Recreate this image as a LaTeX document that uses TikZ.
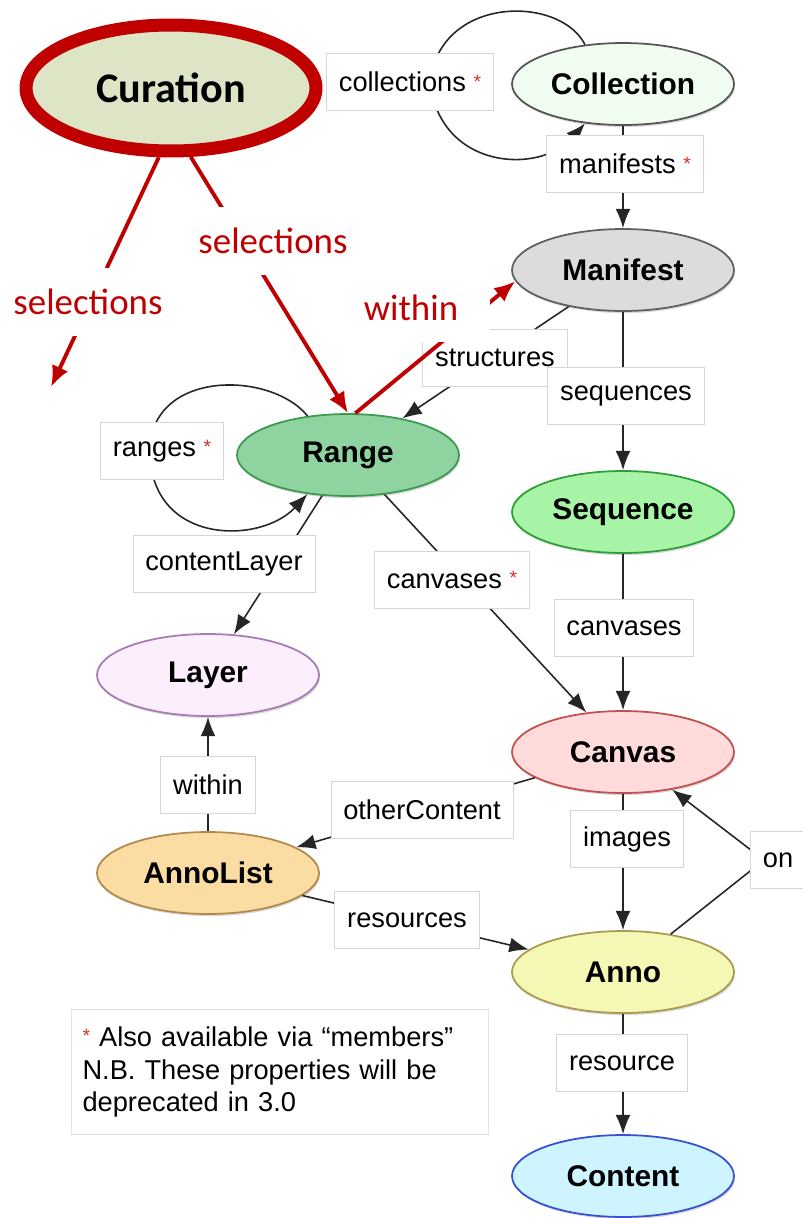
\documentclass[tikz,border=0pt]{standalone}
\usepackage{fontspec}
\setmainfont{Liberation Sans}
\newfontfamily\calibrifont{Carlito}
\usepackage{xcolor}
\usepackage{tikz}
\usetikzlibrary{shapes,positioning,arrows.meta,shadows}

\definecolor{curred}{HTML}{C00000}
\definecolor{curfill}{HTML}{DDE5C6}
\definecolor{colfill}{HTML}{F0FCEF}
\definecolor{colline}{HTML}{555555}
\definecolor{manfill}{HTML}{DCDCDC}
\definecolor{manline}{HTML}{606060}
\definecolor{rngfill}{HTML}{8FD3A0}
\definecolor{rngline}{HTML}{3C9A50}
\definecolor{seqfill}{HTML}{A7F4A7}
\definecolor{seqline}{HTML}{2E9E3A}
\definecolor{layfill}{HTML}{FCEEFC}
\definecolor{layline}{HTML}{A77BB5}
\definecolor{canfill}{HTML}{FFDBDB}
\definecolor{canline}{HTML}{C25050}
\definecolor{anlfill}{HTML}{FBDCA3}
\definecolor{anlline}{HTML}{B38A4D}
\definecolor{anofill}{HTML}{F5F8B4}
\definecolor{anoline}{HTML}{A89A50}
\definecolor{cntfill}{HTML}{CDF4FF}
\definecolor{cntline}{HTML}{3A50D0}
\definecolor{boxgrey}{HTML}{D6D6D6}
\definecolor{starred}{HTML}{D03030}

\newcommand{\rstar}{\raisebox{2pt}{\textcolor{starred}{\fontsize{11}{11}\selectfont *}}}

\begin{document}
\begin{tikzpicture}[x=0.02cm,y=-0.02cm]
      \tikzstyle{enode} = [ellipse, draw, line width=1pt, minimum width=4.44cm, minimum height=1.64cm,
      inner sep=0pt, font=\fontsize{17}{17}\selectfont\bfseries,
      drop shadow={shadow xshift=0.6pt, shadow yshift=-1.2pt, opacity=0.3}]
      \tikzstyle{lnode} = [rectangle, draw=boxgrey, fill=white, line width=0.5pt, minimum height=1.14cm,
      inner xsep=7pt, font=\fontsize{15.5}{15.5}\selectfont]
      \tikzstyle{rnode} = [fill=white, text=curred, inner xsep=4pt, minimum height=1.36cm,
      font=\calibrifont\fontsize{21}{21}\selectfont]
      \tikzstyle{edge} = [draw=black!85, line width=0.9pt, -{Latex[length=11pt,width=8.5pt]}]
      \tikzstyle{redge} = [draw=curred, line width=2.2pt, -{Latex[length=12pt,width=10pt]}]

      \useasboundingbox (0,0) rectangle (803,1218);

      \node[ellipse, draw=curred, line width=7.4pt, fill=curfill, minimum width=5.8cm, minimum height=2.52cm,
        inner sep=0pt, font=\calibrifont\bfseries\fontsize{24}{24}\selectfont] (cur) at (171,88)
        {\makebox[0pt]{Curation}};

      \node[enode, fill=colfill, draw=colline] (col) at (623,84) {Collection};
      \node[enode, fill=manfill, draw=manline] (man) at (623,270) {Manifest};
      \node[enode, fill=rngfill, draw=rngline] (rng) at (348,455) {Range};
      \node[enode, fill=seqfill, draw=seqline] (seq) at (623,512) {Sequence};
      \node[enode, fill=layfill, draw=layline] (lay) at (208,675) {Layer};
      \node[enode, fill=canfill, draw=canline] (can) at (623,752) {Canvas};
      \node[enode, fill=anlfill, draw=anlline] (anl) at (208,873) {AnnoList};
      \node[enode, fill=anofill, draw=anoline] (ano) at (623,972) {Anno};
      \node[enode, fill=cntfill, draw=cntline] (cnt) at (623,1176) {Content};

      % connections
      \coordinate (onbend) at (764,860);
      \draw[edge] (col.134) .. controls (560,-5) and (440,-5) .. (430,82)
                  .. controls (440,170) and (540,175) .. (col.226);
      \draw[edge] (col) -- (man);
      \draw[edge] (man) -- (rng);
      \draw[edge] (man) -- (seq);
      \draw[edge] (rng.136) .. controls (270,370) and (150,370) .. (150,451)
                  .. controls (150,545) and (260,545) .. (rng.224);
      \draw[edge] (rng) -- (lay);
      \draw[edge] (rng) -- (can);
      \draw[edge] (seq) -- (can);
      \draw[edge] (anl) -- (lay);
      \draw[edge] (can) -- (anl);
      \draw[edge] (can) -- (ano);
      \draw[edge] (ano) -- (onbend) -- (can);
      \draw[edge] (anl) -- (ano);
      \draw[edge] (ano) -- (cnt);

      % edge labels
      \node[lnode] (lcolls) at (410,82) {collections \rstar};
      \node[lnode] (lmans) at (625,164) {manifests \rstar};
      \node[lnode] (lstruct) at (495,358) {structures};
      \node[lnode] (lseqs) at (626,396) {sequences};
      \node[lnode] (lranges) at (162,451) {ranges \rstar};
      \node[lnode] (lclayer) at (224,564) {contentLayer};
      \node[lnode] (lcanvr) at (452,580) {canvases \rstar};
      \node[lnode] (lcanvs) at (624,628) {canvases};
      \node[lnode] (lwithin) at (208,785) {within};
      \node[lnode] (lother) at (422,810) {otherContent};
      \node[lnode] (limages) at (627,839) {images};
      \node[lnode] (lon) at (778,860) {on};
      \node[lnode] (lres) at (407,920) {resources};
      \node[lnode] (lresource) at (622,1063) {resource};

      \node[draw=boxgrey!70, fill=white, line width=0.5pt, minimum width=8.34cm, minimum height=2.5cm,
        text width=7.9cm, align=left, font=\fontsize{15.5}{18.7}\selectfont] (note) at (280,1072)
        {\rstar{} Also available via “members”\\N.B. These properties will be\\deprecated in 3.0};

      % curation additions
      \coordinate (selend) at (51,387);
      \draw[redge] (cur.-100) -- (selend);
      \draw[redge] (cur.-74) -- (rng.north);
      \draw[redge] (rng.80) -- (man.186);
      \node[rnode] (lsel1) at (88,302) {selections};
      \node[rnode] (lsel2) at (273,241) {selections};
      \node[rnode, minimum width=3.16cm] (lwithinr) at (411,308) {within};
\end{tikzpicture}
\end{document}
